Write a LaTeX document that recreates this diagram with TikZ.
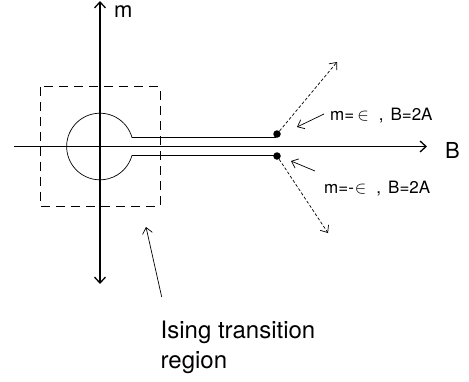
\documentclass[tikz,border=0pt]{standalone}
\usepackage{fontspec}
\setmainfont{TeX Gyre Heros}
\usetikzlibrary{arrows.meta}
\begin{document}
\begin{tikzpicture}[x=1pt,y=-1pt,
  axis/.style={line width=1.3pt},
  thinline/.style={line width=0.7pt},
  dotted arrow/.style={line width=0.7pt, dash pattern=on 3pt off 2pt, -{Straight Barb[length=6pt,width=10pt]}},
  pointer/.style={line width=0.7pt, -{Straight Barb[length=6pt,width=10pt]}},
  boxdash/.style={line width=0.8pt, dash pattern=on 9pt off 6pt},
  dot/.style={circle, fill=black, inner sep=0pt, minimum size=7.5pt},
  biglabel/.style={font=\fontsize{22}{26}\selectfont, inner sep=0pt},
  smalllabel/.style={font=\fontsize{17}{20}\selectfont, inner sep=0pt}
]
\useasboundingbox (0,0) rectangle (469,381);
% axes
\coordinate (mtop) at (100,1);
\coordinate (mbot) at (100,284);
\coordinate (bleft) at (14,146.5);
\coordinate (bright) at (427,146.5);
\draw[axis, {Straight Barb[length=6pt,width=11pt]}-{Straight Barb[length=6pt,width=11pt]}] (mbot) -- (mtop);
\draw[axis, -{Straight Barb[length=6pt,width=11pt]}] (bleft) -- (bright);
\node[biglabel, anchor=west] (mlab) at (114,12) {m};
\node[biglabel, anchor=west] (blab) at (445,150) {B};
% dashed box
\draw[boxdash] (40.7,86.7) rectangle (160,206);
% keyhole contour
\node[dot] (d1) at (277,134) {};
\node[dot] (d2) at (277,156) {};
\draw[thinline] (276,137.5) -- (132,137.5)
  arc[start angle=-15.7, end angle=-344.3, radius=33.3] -- (276,155.5);
% dashed arrows
\coordinate (up) at (337,62);
\coordinate (dn) at (328,233);
\draw[dotted arrow] (d1) -- (up);
\draw[dotted arrow] (d2) -- (dn);
% labels
\node[smalllabel, anchor=base west] (l1) at (330,120) {m=\hspace{3pt}$\in$\hspace{10pt},\hspace{7pt}B=2A};
\node[smalllabel, anchor=base west] (l2) at (324,193) {m=-\hspace{1pt}$\in$\hspace{10pt},\hspace{7pt}B=2A};
\coordinate (p1) at (297,127);
\coordinate (p2) at (291,161);
\draw[pointer] (324,114) -- (p1);
\draw[pointer] (315,171) -- (p2);
% Ising
\node[biglabel, font=\fontsize{24}{30}\selectfont, anchor=base west, align=left] (ising) at (160.5,368) {Ising transition\\region};
\coordinate (isingtip) at (146,227);
\draw[pointer] (161.7,297) -- (isingtip);
\end{tikzpicture}
\end{document}
